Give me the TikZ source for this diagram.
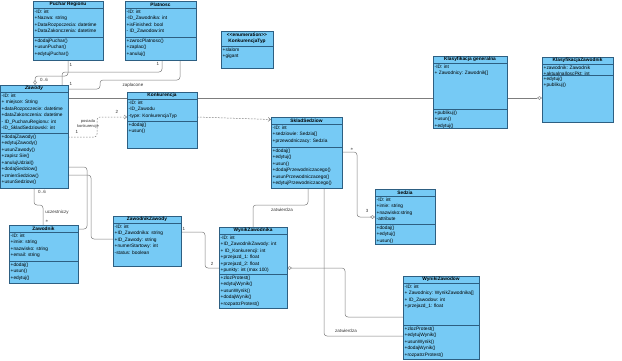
\documentclass[tikz,border=0pt]{standalone}
\usepackage{fontspec}
\setmainfont{Liberation Sans}
\usetikzlibrary{arrows.meta}
\pgfdeclarelayer{back}
\pgfdeclarelayer{wires}
\pgfsetlayers{back,wires,main}
\definecolor{clsfill}{RGB}{118,202,245}
\definecolor{clsdraw}{RGB}{45,95,130}
\definecolor{connc}{RGB}{125,125,125}
\tikzset{
  cls/.style={draw=clsdraw, fill=clsfill, line width=0.55pt, inner sep=0pt, outer sep=0pt},
  sepline/.style={draw=clsdraw, line width=0.5pt},
  ttl/.style={font=\bfseries\fontsize{4.8}{5.5}\selectfont, inner sep=0pt},
  txt/.style={font=\fontsize{4.8}{6.5}\selectfont, align=left, anchor=north west, inner sep=0pt},
  conn/.style={draw=connc, line width=0.5pt, rounded corners=3pt},
  dconn/.style={conn, dash pattern=on 1.6pt off 1.4pt},
  lbl/.style={font=\fontsize{4.5}{5}\selectfont, inner sep=0.3pt, text=black!80},
  agg/.style={{Diamond[open,length=5pt,width=3.5pt]}-},
  openarr/.style={-{Straight Barb[length=2.5pt,width=4pt]}},
}
\newcommand\umlclass[9]{%
  \node[cls, anchor=north west, minimum width={(#4-#2)*1pt}, minimum height={(#5-#3)*1pt}] (#1) at (#2,#3) {};
  \draw[sepline] (#2,{#3+7}) -- (#4,{#3+7});
  \node[ttl] (#1-t) at ({(#2+#4)/2},{#3+3.6}) {#7};
  \node[txt] (#1-a) at ({#2+1.5},{#3+8.6}) {#8};
  \draw[sepline] (#2,#6) -- (#4,#6);
  \node[txt] (#1-m) at ({#2+1.5},{#6+1.6}) {#9};
}
\begin{document}
\begin{tikzpicture}[x=1pt,y=-1pt]
\begin{pgfonlayer}{back}
\fill[white] (0,0) rectangle (622,360);
\end{pgfonlayer}
\useasboundingbox (0,0) rectangle (622,360);

\umlclass{puchar}{33}{1}{103}{60}{37}{Puchar Regionu}
 {-ID: int\\+Nazwa: string\\+DataRozpoczecia: datetime\\+DataZakonczenia: datetime}
 {+dodajPuchar()\\+usunPuchar()\\+edytujPuchar()}

\umlclass{platnosc}{125}{1}{196}{60}{37}{Platnosc}
 {-ID: int\\-ID\_Zawodnika: int\\+isFinished: bool\\- ID\_Zawodow:int}
 {+zwrocPlatnosc()\\+zaplac()\\+anuluj()}

% enumeration
\node[cls, anchor=north west, minimum width=52pt, minimum height=37pt] (enum) at (221,31) {};
\node[ttl, align=center, font=\bfseries\fontsize{4.8}{6}\selectfont] (enum-t) at (247,38.5) {{<}{<}enumeration{>}{>}\\KonkurencjaTyp};
\draw[sepline] (221,46) -- (273,46);
\node[txt] (enum-a) at (222.5,47.6) {+slalom\\+gigant};

\umlclass{zawody}{0}{85}{68}{188}{133}{\itshape Zawody}
 {-ID: int\\+ miejsce: String\\+dataRozpoczecie: datetime\\+dataZakonczenia: datetime\\- ID\_PucharuRegionu: int\\-ID\_SkladSedziowski: int}
 {+dodajZawody()\\+edytujZawody()\\+usunZawody()\\+zapisz Sie()\\+anulujUdzial()\\+dodajSedziow()\\+zmienSedziow()\\+usunSedziow()}

\umlclass{konk}{127}{92}{197}{148}{121}{Konkurencja}
 {-ID: int\\-ID\_Zawodu\\-type: KonkurencjaTyp}
 {+dodaj()\\+usun()}

\umlclass{ssd}{271}{117}{342}{188}{147}{SkladSedziow}
 {-ID: int\\+sedziowie: Sedzia[]\\+przewodniczacy: Sedzia}
 {+dodaj()\\+edytuj()\\+usun()\\+dodajPrzewodniczacego()\\+usunPrzewodniczacego()\\+edytujPrzewodniczacego()}

\umlclass{kg}{433}{56}{507}{128}{109}{Klasyfikacja generalna}
 {-ID: int\\+ Zawodnicy: Zawodnik[]}
 {+publikuj()\\+usun()\\+edytuj()}

\umlclass{kz}{542}{57}{613}{122}{75}{KlasyfikacjaZawodnik}
 {+zawodnik: Zawodnik\\+aktualnaIloscPkt: int}
 {+edytuj()\\+publikuj()}

\umlclass{zawodnik}{9}{225}{78}{283}{261}{Zawodnik}
 {-ID: int\\+imie: string\\+nazwisko: string\\+email: string}
 {+dodaj()\\+usun()\\+edytuj()}

% ZawodnikZawody (no operations compartment)
\node[cls, anchor=north west, minimum width=68pt, minimum height=50pt] (zz) at (113,216) {};
\draw[sepline] (113,223) -- (181,223);
\node[ttl] (zz-t) at (147,219.6) {ZawodnikZawody};
\node[txt] (zz-a) at (114.5,224.6) {-ID: int\\+ID\_Zawodnika: string\\+ID\_Zawody: string\\+numerStartowy: int\\-status: boolean};

\umlclass{wz}{219}{227}{287}{308}{274}{WynikZawodnika}
 {-ID: int\\+ID\_ZawodnikZawody: int\\+ ID\_Konkurencji: int\\+przejazd\_1: float\\+przejazd\_2: float\\+punkty: int (max 100)}
 {+zlozProtest()\\+edytujWynik()\\+usunWynik()\\+dodajWynik()\\+rozpatrzProtest()}

\umlclass{sedzia}{375}{189}{435}{244}{224}{Sedzia}
 {-ID: int\\+imie: string\\+nazwisko:string\\-attribute}
 {+dodaj()\\+edytuj()\\+usun()}

\umlclass{wyniki}{403}{276}{479}{359}{325}{WynikiZawodow}
 {-ID: int\\+ Zawodnicy: WynikZawodnika[]\\+ ID\_Zawodow: int\\+przejazd\_1: float}
 {+zlozProtest()\\+edytujWynik()\\+usunWynik()\\+dodajWynik()\\+rozpatrzProtest()}

% ---------------- connectors (behind the classes) ----------------
\begin{pgfonlayer}{wires}
% Puchar - Zawody
\draw[conn, agg] (zawody.north -| 35,0) -- (35,76) -- (68,76) -- (puchar.south -| 68,0);
% Platnosc - Zawody
\draw[conn] (platnosc.south -| 162,0) -- (162,72) -- (62,72) -- (zawody.north -| 62,0);
% zaplacone
\draw[conn] (platnosc.south -| 180,0) -- (180,80) -- (100,80) -- (100,89) -- (zawody.east |- 0,89);
% Zawody - Klasyfikacja generalna (passes behind Konkurencja)
\draw[conn] (zawody.east |- 0,98) -- (kg.west |- 0,98);
% posiada konkurencje
\draw[dconn, openarr] (zawody.east |- 0,137) -- (97,137) -- (97,117) -- (konk.west |- 0,117);
% Konkurencja -> SkladSedziow
\draw[dconn, openarr] (konk.east |- 0,117) -- (ssd.west |- 0,119.5);
% Zawody - Zawodnik uczestniczy
\draw[conn] (zawody.south -| 34,0) -- (34,205) -- (43,205) -- (zawodnik.north -| 43,0);
% Zawodnik - Zawody
\draw[conn] (zawodnik.east |- 0,229) -- (87,229) -- (87,167) -- (zawody.east |- 0,167);
% Zawody - ZawodnikZawody
\draw[conn] (zawody.east |- 0,175) -- (91,175) -- (91,239) -- (zz.west |- 0,239);
% ZawodnikZawody - WynikZawodnika
\draw[conn] (zz.east |- 0,232) -- (205,232) -- (205,268) -- (wz.west |- 0,268);
% SkladSedziow - WynikZawodnika
\draw[conn] (ssd.south -| 308,0) -- (308,205) -- (253,205) -- (wz.north);
% SkladSedziow - WynikiZawodow
\draw[conn] (ssd.south -| 324,0) -- (324,336) -- (wyniki.west |- 0,336);
% WynikZawodnika - WynikiZawodow
\draw[conn, agg] (wz.east |- 0,268) -- (345,268) -- (345,317) -- (wyniki.west |- 0,317);
% SkladSedziow - Sedzia
\draw[conn, agg] (sedzia.west |- 0,217) -- (357,217) -- (357,152) -- (ssd.east |- 0,152);
% Klasyfikacja generalna - KlasyfikacjaZawodnik
\draw[conn, agg] (kz.west |- 0,98) -- (kg.east |- 0,98);
\end{pgfonlayer}

% ---------------- labels ----------------
\node[lbl] (l-p06) at (44,80) {0..6};
\node[lbl] (l-p1) at (71,65) {1};
\node[lbl] (l-pl1) at (158,64) {1};
\node[lbl] (l-pl2) at (71,83.5) {1};
\node[lbl] (l-zap) at (133,85) {zaplacone};
\node[lbl, align=center, font=\fontsize{4}{4.5}\selectfont] (l-pos) at (88,124) {posiada\\konkurencje};
\node[lbl] (l-pos1) at (77,132) {1};
\node[lbl] (l-pos2) at (117,112) {2};
\node[lbl] (l-u06) at (42,192) {0..6};
\node[lbl] (l-ucz) at (57,212) {uczestniczy};
\node[lbl] (l-star1) at (47,221) {$\ast$};
\node[lbl] (l-zz1) at (184,229) {1};
\node[lbl] (l-zz2) at (212,264) {2};
\node[lbl] (l-zat1) at (282,210) {zatwierdza};
\node[lbl] (l-zat2) at (346,331) {zatwierdza};
\node[lbl] (l-star2) at (352,149) {$\ast$};
\node[lbl] (l-3) at (367,211) {3};
\end{tikzpicture}
\end{document}
